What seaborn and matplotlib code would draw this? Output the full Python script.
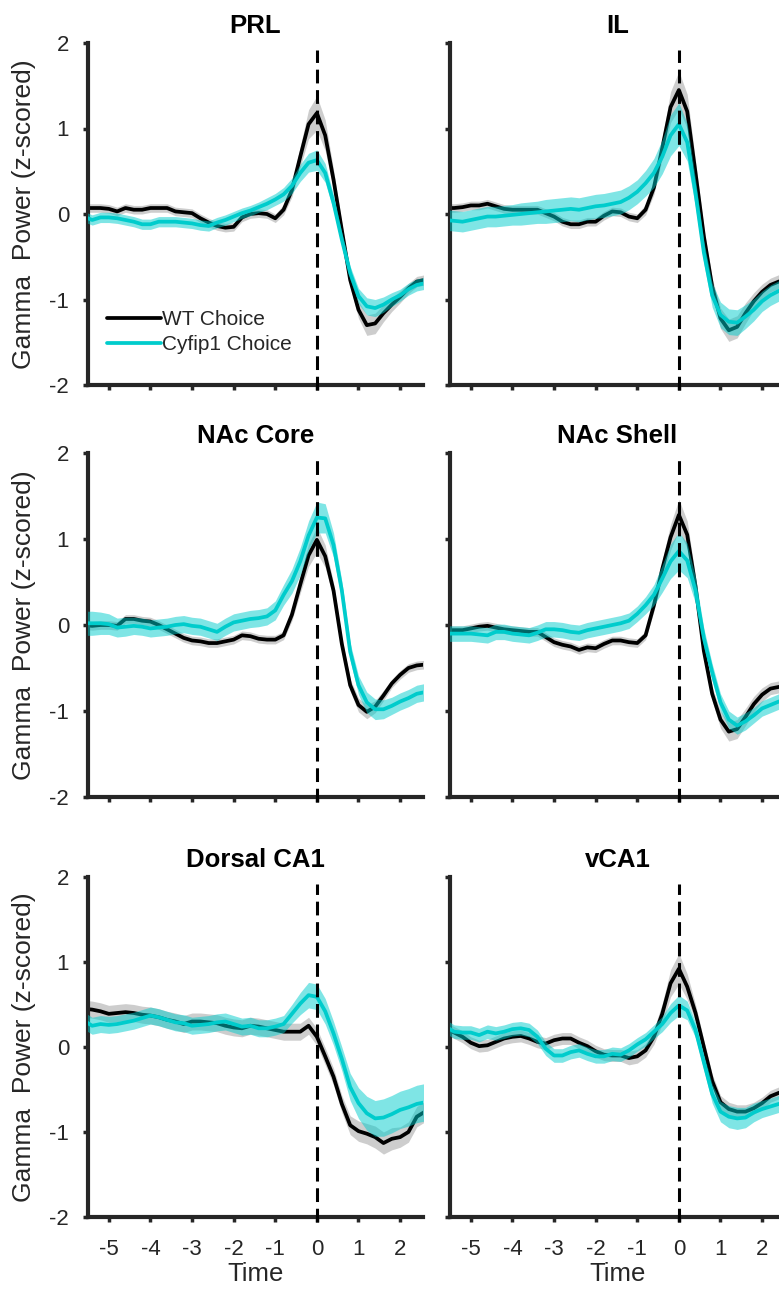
import numpy as np
import pandas as pd
import matplotlib
matplotlib.use("Agg")
import matplotlib.pyplot as plt
from matplotlib.lines import Line2D
import seaborn as sns

# ---------------- data ----------------
time = [-5.6, -5.4, -5.2, -5.0, -4.8, -4.6, -4.4, -4.2, -4.0, -3.8, -3.6, -3.4, -3.2, -3.0,
        -2.8, -2.6, -2.4, -2.2, -2.0, -1.8, -1.6, -1.4, -1.2, -1.0, -0.8, -0.6, -0.4, -0.2,
        0.0, 0.2, 0.4, 0.6, 0.8, 1.0, 1.2, 1.4, 1.6, 1.8, 2.0, 2.2, 2.4, 2.6]

regions = ["PRL", "IL", "NAc Core", "NAc Shell", "Dorsal CA1", "vCA1"]
groups = ["WT Choice", "Cyfip1 Choice"]

prl_wt = [0.07, 0.07, 0.07, 0.06, 0.03, 0.07, 0.05,
          0.05, 0.07, 0.07, 0.07, 0.03, 0.02, 0.01,
          -0.05, -0.10, -0.14, -0.16, -0.15, -0.04, 0.00,
          0.01, 0.00, -0.05, 0.05, 0.28, 0.67, 1.05,
          1.18, 0.92, 0.40, -0.19, -0.77, -1.12, -1.30,
          -1.28, -1.16, -1.06, -0.97, -0.87, -0.79, -0.77]
prl_wt_sem = [0.05] * 21 + [0.05, 0.05, 0.05, 0.06, 0.08, 0.12, 0.17,
                            0.20, 0.18, 0.12, 0.08, 0.08, 0.10, 0.12,
                            0.12, 0.10, 0.08, 0.07, 0.06, 0.06, 0.06]
prl_cy = [-0.03, -0.07, -0.04, -0.04, -0.05, -0.07, -0.09,
          -0.12, -0.12, -0.09, -0.09, -0.09, -0.10, -0.11,
          -0.13, -0.14, -0.10, -0.07, -0.03, 0.01, 0.04,
          0.08, 0.12, 0.17, 0.23, 0.33, 0.48, 0.60,
          0.63, 0.48, 0.13, -0.30, -0.69, -0.96, -1.08,
          -1.10, -1.06, -1.00, -0.95, -0.88, -0.83, -0.81]
prl_cy_sem = [0.06] * 21 + [0.06, 0.07, 0.07, 0.08, 0.09, 0.10, 0.11,
                            0.12, 0.11, 0.09, 0.08, 0.08, 0.09, 0.10,
                            0.10, 0.09, 0.08, 0.07, 0.07, 0.07, 0.07]

il_wt = [0.07, 0.07, 0.08, 0.10, 0.10, 0.12, 0.09,
         0.06, 0.05, 0.05, 0.05, 0.05, 0.01, -0.03,
         -0.09, -0.12, -0.12, -0.09, -0.09, -0.02, 0.03,
         0.02, -0.03, -0.05, 0.05, 0.31, 0.77, 1.25,
         1.45, 1.20, 0.48, -0.26, -0.85, -1.22, -1.36,
         -1.32, -1.16, -1.02, -0.91, -0.83, -0.79, -0.78]
il_wt_sem = [0.05] * 21 + [0.05, 0.05, 0.05, 0.06, 0.08, 0.12, 0.18,
                           0.22, 0.20, 0.14, 0.10, 0.10, 0.12, 0.13,
                           0.13, 0.12, 0.10, 0.09, 0.08, 0.08, 0.08]
il_cy = [-0.07, -0.08, -0.09, -0.07, -0.05, -0.03, -0.03,
         -0.02, -0.01, 0.00, 0.01, 0.02, 0.03, 0.04,
         0.05, 0.06, 0.05, 0.07, 0.09, 0.10, 0.12,
         0.14, 0.19, 0.26, 0.36, 0.48, 0.67, 0.92,
         1.05, 0.84, 0.24, -0.45, -0.95, -1.18, -1.26,
         -1.27, -1.20, -1.12, -1.02, -0.95, -0.90, -0.88]
il_cy_sem = [0.12, 0.12, 0.12, 0.12, 0.12, 0.12, 0.12,
             0.12, 0.12, 0.13, 0.13, 0.13, 0.14, 0.14,
             0.14, 0.14, 0.14, 0.14, 0.14, 0.14, 0.14,
             0.14, 0.14, 0.14, 0.15, 0.17, 0.20, 0.24,
             0.25, 0.22, 0.16, 0.13, 0.14, 0.15, 0.15,
             0.15, 0.14, 0.13, 0.12, 0.12, 0.12, 0.12]

core_wt = [0.00, -0.01, 0.00, 0.00, -0.01, 0.07, 0.07,
           0.05, 0.04, 0.00, -0.05, -0.10, -0.15, -0.18,
           -0.19, -0.21, -0.21, -0.19, -0.17, -0.12, -0.13,
           -0.16, -0.17, -0.17, -0.12, 0.12, 0.47, 0.81,
           0.99, 0.80, 0.40, -0.22, -0.70, -0.93, -1.01,
           -0.95, -0.82, -0.68, -0.58, -0.50, -0.47, -0.46]
core_wt_sem = [0.05] * 21 + [0.05, 0.05, 0.05, 0.05, 0.07, 0.10, 0.13,
                             0.15, 0.13, 0.09, 0.07, 0.07, 0.08, 0.08,
                             0.07, 0.06, 0.05, 0.05, 0.05, 0.05, 0.05]
core_cy = [0.02, 0.02, 0.02, 0.01, -0.03, -0.02, -0.01,
           -0.02, -0.04, -0.03, -0.02, 0.00, 0.01, -0.01,
           -0.02, -0.05, -0.08, -0.02, 0.03, 0.05, 0.07,
           0.08, 0.10, 0.17, 0.35, 0.51, 0.74, 1.04,
           1.25, 1.24, 0.93, 0.40, -0.31, -0.70, -0.90,
           -0.98, -0.98, -0.94, -0.89, -0.85, -0.80, -0.78]
core_cy_sem = [0.14, 0.14, 0.13, 0.12, 0.11, 0.11, 0.10,
               0.10, 0.10, 0.10, 0.10, 0.10, 0.10, 0.10,
               0.10, 0.10, 0.10, 0.10, 0.10, 0.10, 0.10,
               0.10, 0.10, 0.11, 0.12, 0.14, 0.16, 0.17,
               0.18, 0.17, 0.14, 0.11, 0.10, 0.11, 0.12,
               0.12, 0.11, 0.10, 0.10, 0.10, 0.10, 0.10]

shell_wt = [-0.06, -0.06, -0.06, -0.04, -0.02, -0.01, -0.03,
            -0.05, -0.06, -0.07, -0.08, -0.08, -0.14, -0.20,
            -0.23, -0.25, -0.29, -0.26, -0.27, -0.22, -0.18,
            -0.18, -0.20, -0.21, -0.12, 0.23, 0.65, 1.02,
            1.28, 1.05, 0.45, -0.30, -0.80, -1.10, -1.24,
            -1.21, -1.07, -0.92, -0.81, -0.74, -0.72, -0.72]
shell_wt_sem = [0.05] * 21 + [0.05, 0.05, 0.05, 0.05, 0.07, 0.10, 0.15,
                              0.18, 0.16, 0.11, 0.08, 0.08, 0.10, 0.11,
                              0.11, 0.10, 0.09, 0.08, 0.07, 0.07, 0.07]
shell_cy = [-0.10, -0.10, -0.10, -0.10, -0.11, -0.12, -0.08,
            -0.08, -0.10, -0.11, -0.12, -0.09, -0.05, -0.05,
            -0.06, -0.08, -0.09, -0.06, -0.04, -0.02, 0.00,
            0.02, 0.05, 0.13, 0.23, 0.35, 0.54, 0.74,
            0.86, 0.75, 0.40, -0.15, -0.55, -0.90, -1.10,
            -1.17, -1.12, -1.05, -0.97, -0.93, -0.89, -0.88]
shell_cy_sem = [0.09] * 21 + [0.09, 0.09, 0.09, 0.10, 0.12, 0.16, 0.20,
                              0.22, 0.20, 0.15, 0.11, 0.10, 0.10, 0.10,
                              0.10, 0.10, 0.09, 0.09, 0.09, 0.09, 0.09]

dca1_wt = [0.45, 0.44, 0.42, 0.39, 0.40, 0.41, 0.40,
           0.38, 0.37, 0.35, 0.32, 0.30, 0.27, 0.30,
           0.30, 0.29, 0.28, 0.25, 0.23, 0.22, 0.25,
           0.24, 0.22, 0.20, 0.18, 0.18, 0.18, 0.25,
           0.12, -0.11, -0.35, -0.67, -0.92, -0.99, -1.02,
           -1.06, -1.13, -1.08, -1.06, -1.00, -0.82, -0.76]
dca1_wt_sem = [0.10] * 21 + [0.10, 0.10, 0.10, 0.10, 0.10, 0.10, 0.10,
                             0.10, 0.10, 0.10, 0.10, 0.11, 0.12, 0.12,
                             0.13, 0.13, 0.13, 0.12, 0.12, 0.12, 0.12]
dca1_cy = [0.31, 0.25, 0.27, 0.26, 0.27, 0.29, 0.31,
           0.34, 0.37, 0.35, 0.32, 0.29, 0.28, 0.25,
           0.26, 0.27, 0.29, 0.30, 0.27, 0.24, 0.25,
           0.22, 0.22, 0.24, 0.27, 0.39, 0.51, 0.61,
           0.59, 0.42, 0.16, -0.14, -0.47, -0.66, -0.78,
           -0.84, -0.83, -0.79, -0.74, -0.71, -0.67, -0.65]
dca1_cy_sem = [0.10] * 21 + [0.10, 0.10, 0.10, 0.10, 0.11, 0.13, 0.15,
                             0.15, 0.15, 0.14, 0.14, 0.16, 0.18, 0.20,
                             0.21, 0.22, 0.22, 0.22, 0.22, 0.22, 0.22]

vca1_wt = [0.22, 0.17, 0.12, 0.05, 0.01, 0.02, 0.06,
           0.10, 0.12, 0.13, 0.10, 0.06, 0.04, 0.08,
           0.10, 0.10, 0.05, 0.01, -0.05, -0.09, -0.10,
           -0.10, -0.13, -0.11, -0.04, 0.12, 0.39, 0.75,
           0.92, 0.71, 0.40, 0.00, -0.40, -0.65, -0.73,
           -0.76, -0.76, -0.72, -0.66, -0.58, -0.54, -0.52]
vca1_wt_sem = [0.07] * 21 + [0.07, 0.08, 0.08, 0.08, 0.09, 0.12, 0.16,
                             0.18, 0.15, 0.10, 0.08, 0.08, 0.08, 0.08,
                             0.08, 0.08, 0.07, 0.07, 0.07, 0.07, 0.07]
vca1_cy = [0.24, 0.18, 0.17, 0.17, 0.14, 0.18, 0.16,
           0.18, 0.21, 0.22, 0.20, 0.12, -0.02, -0.10,
           -0.10, -0.06, -0.04, -0.08, -0.11, -0.11, -0.08,
           -0.09, -0.04, 0.03, 0.09, 0.18, 0.27, 0.40,
           0.49, 0.43, 0.20, -0.18, -0.55, -0.76, -0.82,
           -0.84, -0.83, -0.77, -0.73, -0.70, -0.67, -0.66]
vca1_cy_sem = [0.08] * 21 + [0.08, 0.08, 0.08, 0.08, 0.08, 0.09, 0.11,
                             0.12, 0.11, 0.09, 0.09, 0.11, 0.12, 0.13,
                             0.13, 0.12, 0.11, 0.10, 0.10, 0.10, 0.10]

x_ticks = [-5, -4, -3, -2, -1, 0, 1, 2]
y_ticks = [-2, -1, 0, 1, 2]

wt_means = [prl_wt, il_wt, core_wt, shell_wt, dca1_wt, vca1_wt]
wt_sems = [prl_wt_sem, il_wt_sem, core_wt_sem, shell_wt_sem, dca1_wt_sem, vca1_wt_sem]
cy_means = [prl_cy, il_cy, core_cy, shell_cy, dca1_cy, vca1_cy]
cy_sems = [prl_cy_sem, il_cy_sem, core_cy_sem, shell_cy_sem, dca1_cy_sem, vca1_cy_sem]

# ---------------- style ----------------
sns.set_style("white")
plt.rcParams["font.family"] = ["Liberation Sans", "DejaVu Sans"]
AX = "#262626"
CYAN = "#00CCCC"

W, H = 779, 1298
fig = plt.figure(figsize=(W / 100, H / 100), dpi=100)

col_left = [88 / W, 450 / W]
ax_w = 335 / W
rows = [(43, 385), (453, 797), (877, 1217)]

for k, name in enumerate(regions):
    r, c = divmod(k, 2)
    top, bot = rows[r]
    ax = fig.add_axes([col_left[c], 1 - bot / H, ax_w, (bot - top) / H])

    df = pd.DataFrame({
        "Time": time * 2,
        "value": wt_means[k] + cy_means[k],
        "sem": wt_sems[k] + cy_sems[k],
        "group": [groups[0]] * len(time) + [groups[1]] * len(time),
    })
    wt = df[df.group == groups[0]]
    cy = df[df.group == groups[1]]

    ax.fill_between(wt.Time, wt.value - wt["sem"], wt.value + wt["sem"],
                    color="#BDBDBD", alpha=0.75, lw=0, zorder=1)
    sns.lineplot(data=wt, x="Time", y="value", color="black", lw=2.7,
                 estimator=None, ax=ax, zorder=2, legend=False)
    ax.fill_between(cy.Time, cy.value - cy["sem"], cy.value + cy["sem"],
                    color=CYAN, alpha=0.5, lw=0, zorder=3)
    sns.lineplot(data=cy, x="Time", y="value", color=CYAN, lw=2.7,
                 estimator=None, ax=ax, zorder=4, legend=False)

    ax.plot([0, 0], [-2.06, 1.92], color="black", lw=2.2,
            dashes=(4.5, 2.2), zorder=5, clip_on=False)

    ax.set_xlim(-5.5, 2.55)
    ax.set_ylim(-2, 2)
    ax.set_xticks(x_ticks)
    ax.set_yticks(y_ticks)
    for s in ["top", "right"]:
        ax.spines[s].set_visible(False)
    for s in ["left", "bottom"]:
        ax.spines[s].set_color(AX)
        ax.spines[s].set_linewidth(3.0)
    ax.tick_params(axis="both", direction="out", length=3.5, width=2.5,
                   color=AX, labelcolor=AX, labelsize=16,
                   bottom=True, left=True)
    ax.tick_params(axis="y", pad=10)
    ax.tick_params(axis="x", pad=12)
    ax.set_xticklabels([str(v) for v in x_ticks])
    ax.set_yticklabels([str(v) for v in y_ticks])

    if r < 2:
        ax.tick_params(axis="x", labelbottom=False)
        ax.set_xlabel("")
    else:
        ax.set_xlabel("Time", fontsize=18.5, color=AX, labelpad=2)
    if c == 1:
        ax.tick_params(axis="y", labelleft=False)
        ax.set_ylabel("")
    else:
        ax.set_ylabel("Gamma  Power (z-scored)", fontsize=19, color=AX)
        ax.yaxis.set_label_coords(-0.155, 0.5)
    ax.set_title(name, fontsize=18.5, fontweight="bold", pad=7, color="black")

    if k == 0:
        handles = [Line2D([], [], color="black", lw=2.7),
                   Line2D([], [], color=CYAN, lw=2.7)]
        ax.legend(handles, groups, loc="lower left", bbox_to_anchor=(0.057, 0.09),
                  frameon=False, fontsize=15, handlelength=2.6, handletextpad=0.05,
                  borderaxespad=0, borderpad=0, labelspacing=0.3)

fig.savefig("out.png", dpi=100)
